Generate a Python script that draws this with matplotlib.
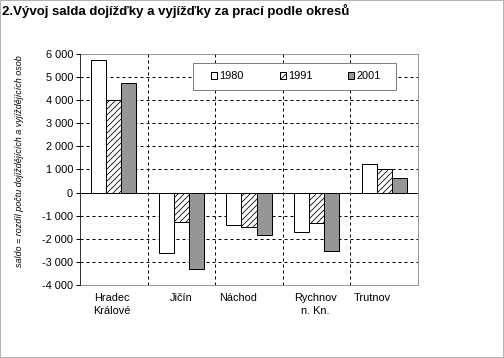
import matplotlib
matplotlib.use("Agg")
import matplotlib.pyplot as plt
import matplotlib.transforms as mtransforms
from matplotlib.patches import Rectangle
import numpy as np

plt.rcParams['font.family'] = ['Liberation Sans', 'DejaVu Sans']
plt.rcParams['hatch.linewidth'] = 0.8

# data
okresy = ['Hradec\nKrálové', 'Jičín', 'Náchod', 'Rychnov\nn. Kn.', 'Trutnov']
roky = ['1980', '1991', '2001']
s1980 = [5750, -2600, -1400, -1700, 1250]
s1991 = [4000, -1280, -1490, -1310, 1020]
s2001 = [4750, -3300, -1820, -2520, 640]
yticks = list(range(-4000, 6001, 1000))
ytick_labels = ['{:,}'.format(v).replace(',', '\u00a0') for v in yticks]

fig = plt.figure(figsize=(7, 358 / 72), dpi=72)
ax = fig.add_axes([80 / 504, 1 - 285 / 358, 338 / 504, 231 / 358])

x = np.arange(len(okresy))
w = 0.222
styles = [dict(color='white', hatch=None),
          dict(color='white', hatch='////'),
          dict(color='#969696', hatch=None)]
for i, (vals, st) in enumerate(zip([s1980, s1991, s2001], styles)):
    ax.bar(x + (i - 1) * w, vals, w, color=st['color'], hatch=st['hatch'],
           edgecolor='black', linewidth=1, label=roky[i], zorder=3)

ax.set_xlim(-0.5, len(okresy) - 0.5)
ax.set_ylim(-4000, 6000)
ax.set_yticks(yticks)
ax.set_yticklabels(ytick_labels, fontsize=11)
ax.set_xticks(x)
ax.set_xticklabels(okresy, fontsize=11, linespacing=1.35)
ax.tick_params(axis='x', length=0, pad=8)
ax.tick_params(axis='y', length=4, width=1, color='black', direction='out', pad=3)

# Excel shifts some category labels a bit to the left
shifts = [-2, 0, -11, -1, -12]
for lab, dx in zip(ax.get_xticklabels(), shifts):
    lab.set_transform(lab.get_transform() +
                      mtransforms.ScaledTranslation(dx / 72, 0, fig.dpi_scale_trans))

# grid
for v in yticks[1:-1]:
    if v != 0:
        ax.axhline(v, color='black', lw=1, ls=(0, (3, 3)), zorder=1)
for b in x[:-1] + 0.5:
    ax.axvline(b, color='black', lw=1, ls=(0, (3, 3)), zorder=1)
ax.axhline(0, color='black', lw=1, zorder=4)

for s in ['top', 'right', 'bottom']:
    ax.spines[s].set_color('#808080')
ax.spines['left'].set_color('black')
ax.spines['left'].set_zorder(5)

# legend box drawn separately, entries spread inside it
ax.add_patch(Rectangle((0.334, 0.844), 0.601, 0.117, transform=ax.transAxes,
                       facecolor='white', edgecolor='#808080', lw=1, zorder=6))
leg = ax.legend(loc='center', bbox_to_anchor=(0.3876, 0.8726, 0.503, 0.06),
                mode='expand', ncol=3, fontsize=11, frameon=False,
                handlelength=0.55, handleheight=0.55,
                handletextpad=0.2, borderaxespad=0, borderpad=0)
leg.set_zorder(7)

fig.text(20 / 504, 1 - 161 / 358,
         'saldo = rozdíl počtu dojíždějících a vyjíždějících osob',
         rotation=90, style='italic', fontsize=9, ha='center', va='center')
fig.text(2 / 504, 1 - 11 / 358,
         '2.Vývoj salda dojížďky a vyjížďky za prací podle okresů',
         fontsize=13.2, fontweight='bold', ha='left', va='center')

fig.patches.append(Rectangle((0, 0), 1, 1, transform=fig.transFigure,
                             fill=False, edgecolor='#b4b4b4', lw=2))

fig.savefig('out.png', dpi=72)
